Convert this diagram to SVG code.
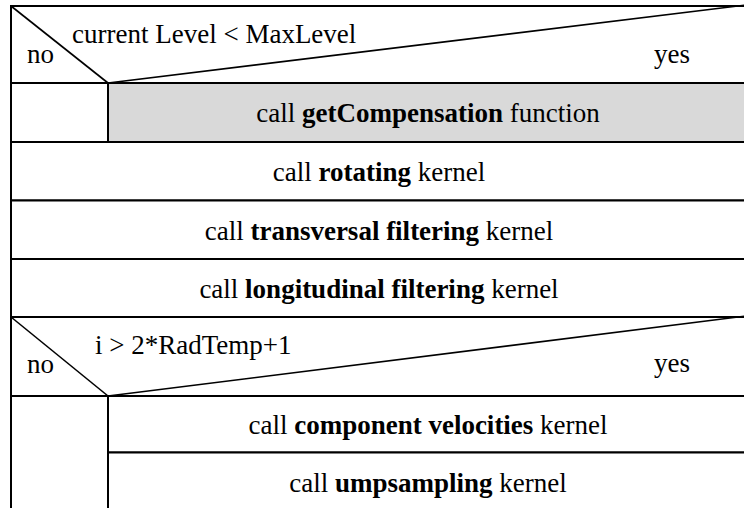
<svg xmlns="http://www.w3.org/2000/svg" width="744" height="508" viewBox="0 0 744 508">
  <style>
    .ln { stroke: #000; stroke-width: 2; fill: none; }
    .diag { stroke: #000; stroke-width: 1.6; fill: none; }
    .box { fill: #fff; stroke: #000; stroke-width: 2; }
    .hl { fill: #d9d9d9; stroke: #000; stroke-width: 2; }
    text { font-family: "Liberation Serif", "Times New Roman", serif; font-size: 27px; fill: #000; }
    .c { text-anchor: middle; }
    b, .b { font-weight: bold; }
  </style>

  <rect x="0" y="0" width="744" height="508" fill="#fff"/>

  <!-- Outer loop condition: current Level < MaxLevel -->
  <g id="cond-level">
    <rect class="box" x="11" y="6" width="740" height="77"/>
    <line class="diag" x1="11" y1="6" x2="108" y2="83"/>
    <line class="diag" x1="108" y1="83" x2="746" y2="5"/>
    <text x="72" y="43">current Level &lt; MaxLevel</text>
    <text x="27" y="63">no</text>
    <text x="654" y="63">yes</text>
  </g>

  <!-- "no" branch of the first condition (empty) -->
  <g id="no-branch-1">
    <rect class="box" x="11" y="83" width="97" height="59"/>
  </g>

  <g id="get-compensation">
    <rect class="hl" x="108" y="83" width="643" height="59"/>
    <text class="c" x="428" y="122">call <tspan class="b">getCompensation</tspan> function</text>
  </g>

  <g id="rotating">
    <rect class="box" x="11" y="142" width="740" height="58.5"/>
    <text class="c" x="379" y="181">call <tspan class="b">rotating</tspan> kernel</text>
  </g>

  <g id="transversal">
    <rect class="box" x="11" y="200.5" width="740" height="58.5"/>
    <text class="c" x="379" y="239.5">call <tspan class="b">transversal filtering</tspan> kernel</text>
  </g>

  <g id="longitudinal">
    <rect class="box" x="11" y="259" width="740" height="58"/>
    <text class="c" x="379" y="298">call <tspan class="b">longitudinal filtering</tspan> kernel</text>
  </g>

  <!-- Second condition: i > 2*RadTemp+1 -->
  <g id="cond-radtemp">
    <rect class="box" x="11" y="317" width="740" height="79"/>
    <line class="diag" x1="11" y1="317" x2="108" y2="396"/>
    <line class="diag" x1="108" y1="396" x2="746" y2="316"/>
    <text x="95" y="354">i &gt; 2*RadTemp+1</text>
    <text x="27" y="373">no</text>
    <text x="654" y="372">yes</text>
  </g>

  <!-- "no" branch of the second condition (empty) -->
  <g id="no-branch-2">
    <rect class="box" x="11" y="396" width="97" height="120"/>
  </g>

  <g id="component-velocities">
    <rect class="box" x="108" y="396" width="643" height="56.5"/>
    <text class="c" x="428" y="434">call <tspan class="b">component velocities</tspan> kernel</text>
  </g>

  <g id="upsampling">
    <rect class="box" x="108" y="452.5" width="643" height="64"/>
    <text class="c" x="428" y="492">call <tspan class="b">umpsampling</tspan> kernel</text>
  </g>

  <g id="connectors"/>
</svg>
